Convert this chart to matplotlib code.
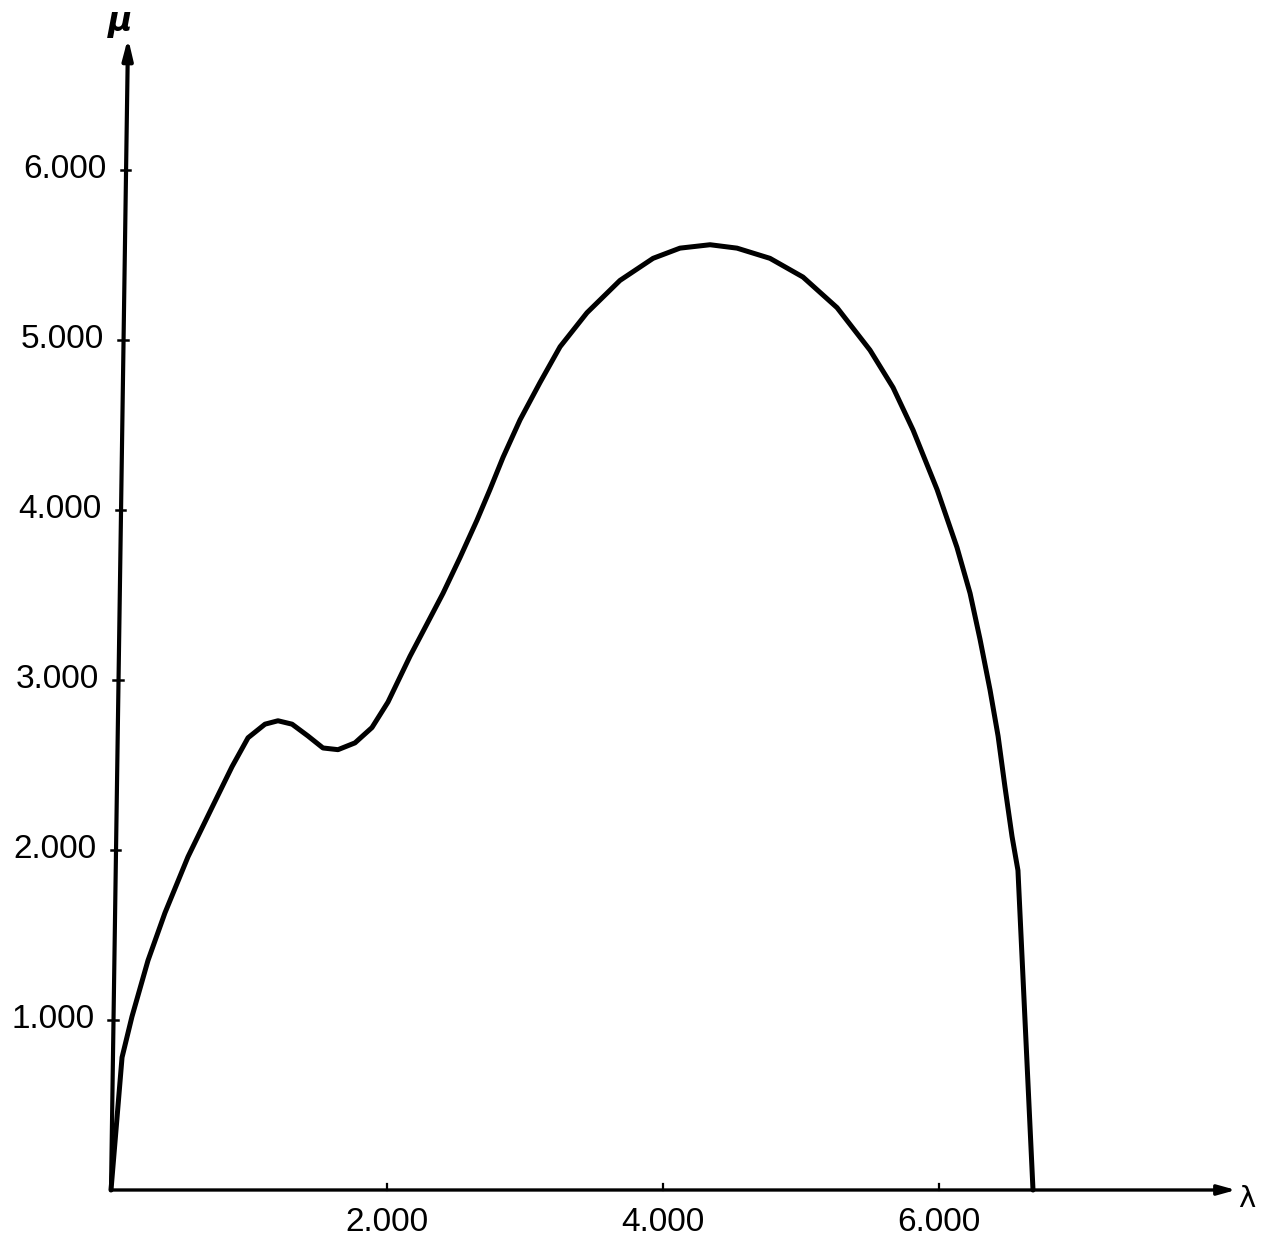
import matplotlib
matplotlib.use("Agg")
import matplotlib.pyplot as plt

# ---- data ----
lam = [0, 80, 152, 268, 391, 558, 732, 877, 993, 1116, 1210, 1312, 1428, 1536,
       1645, 1768, 1891, 2007, 2167, 2290, 2406, 2529, 2652, 2746, 2841, 2964,
       3109, 3254, 3449, 3688, 3928, 4123, 4341, 4536, 4775, 5014, 5261, 5500,
       5667, 5812, 5986, 6130, 6225, 6297, 6370, 6428, 6478, 6529, 6572, 6681]
mu = [0.00, 0.78, 1.02, 1.35, 1.63, 1.96, 2.25, 2.49, 2.66, 2.74, 2.76, 2.74,
      2.67, 2.60, 2.59, 2.63, 2.72, 2.87, 3.14, 3.33, 3.51, 3.72, 3.94, 4.12,
      4.31, 4.53, 4.75, 4.96, 5.16, 5.35, 5.48, 5.54, 5.56, 5.54, 5.48, 5.37,
      5.19, 4.94, 4.72, 4.47, 4.12, 3.78, 3.51, 3.24, 2.94, 2.67, 2.37, 2.08,
      1.88, 0.00]

x_ticks = [2000, 4000, 6000]
x_tick_labels = ["2.000", "4.000", "6.000"]
y_ticks = [1, 2, 3, 4, 5, 6]
y_tick_labels = ["1.000", "2.000", "3.000", "4.000", "5.000", "6.000"]

XMAX = 8152
YMAX = 6.776
YAXIS_TILT = 18.2   # lambda offset of the (slightly slanted) drawn mu-axis per unit mu

W, H = 1266, 1239
fig = plt.figure(figsize=(W / 100, H / 100), dpi=100)
ax = fig.add_axes([111 / W, (H - 1190) / H, (1236 - 111) / W, (1190 - 38) / H])
ax.set_xlim(0, XMAX)
ax.set_ylim(0, YMAX)
ax.axis("off")

font = ["Liberation Sans", "DejaVu Sans"]

# curve
ax.plot(lam, mu, color="black", lw=3.6, solid_joinstyle="round",
        solid_capstyle="round", clip_on=False)

# axes with arrows
ax.annotate("", xy=(XMAX, 0), xytext=(0, 0),
            arrowprops=dict(arrowstyle="-|>,head_length=0.9,head_width=0.25",
                            lw=2.4, color="black", mutation_scale=12,
                            shrinkA=0, shrinkB=0), annotation_clip=False)
ax.annotate("", xy=(YAXIS_TILT * YMAX, YMAX), xytext=(0, 0),
            arrowprops=dict(arrowstyle="-|>,head_length=1.0,head_width=0.25",
                            lw=3.0, color="black", mutation_scale=12,
                            shrinkA=0, shrinkB=0), annotation_clip=False)

# y ticks and labels
for v, s in zip(y_ticks, y_tick_labels):
    x0 = YAXIS_TILT * v
    ax.plot([x0 - 40, x0 + 30], [v, v], color="black", lw=1.8, clip_on=False)
    ax.text(x0 - 140, v, s, ha="right", va="center", fontsize=24,
            family=font, color="black")

# x ticks and labels
for v, s in zip(x_ticks, x_tick_labels):
    ax.plot([v, v], [0, 0.035], color="black", lw=1.6, clip_on=False)
    ax.text(v, -0.19, s, ha="center", va="center", fontsize=24,
            family=font, color="black")

# axis names
ax.text(YAXIS_TILT * YMAX - 60, YMAX + 0.095, "μ", ha="center", va="center",
        fontsize=24, fontweight="bold", fontstyle="italic",
        family=["DejaVu Sans"], color="black")
ax.text(XMAX + 80, -0.05, "λ", ha="center", va="center", fontsize=21,
        family=["DejaVu Sans"], color="black")

fig.savefig("out.png", dpi=100, facecolor="white")
